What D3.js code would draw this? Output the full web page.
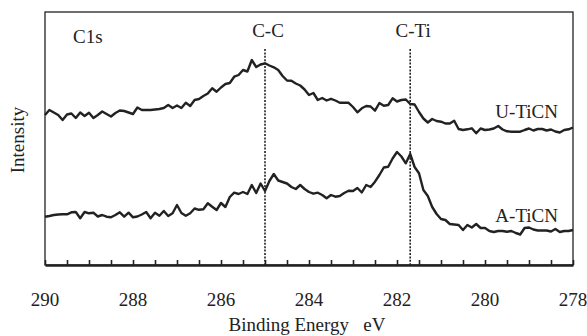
<!DOCTYPE html>
<html>
<head>
<meta charset="utf-8">
<script src="https://cdn.jsdelivr.net/npm/d3@7"></script>
<style>
  body { margin: 0; background: #fff; }
</style>
</head>
<body>
<div id="chart"></div>
<script>
// binding energy grid, 290 -> 278 eV in 0.1 eV steps
var energies = d3.range(121).map(function(i){ return +(290 - i * 0.1).toFixed(1); });

// U-TiCN (upper trace), arbitrary intensity
var uTiCN = [150,155,152.5,150,145,150.5,151.5,147,152.5,149,
  152.3,147,150,153.5,151,148.5,152,154.5,154,152.5,
  151,157.5,155,155,155,155.5,156,157,160,157,
  159.5,157,162.3,159,165,166,169,171.5,176.7,173.3,
  177.5,181,182,188.3,190,195,193.5,205,198,200.5,
  201.7,199.5,197.7,195,189,184.5,184.3,181.5,179.5,175.5,
  170,172,165,167,164.5,166.2,164.5,162.3,162.3,162.2,
  158,152.7,156.7,159,158.5,154.3,162,159.3,160,166.7,
  163.5,165,165.5,161,160.5,153,146.5,142.5,146,144,
  143.3,141.5,141.5,144.3,136,135,135.7,136.7,131.7,136.5,
  135,135.5,136.5,139,135.5,133.7,133.3,133.3,133.3,135,
  136.5,134.5,136,136,134.5,135.5,133.5,132.5,135,135.7,137.5];

// A-TiCN (lower trace)
var aTiCN = [48.3,49,50,50.5,50.7,50.7,52.7,53,46.7,53,
  51.7,52.3,48.5,50,48.3,47.7,50,52.7,48.3,52.3,
  47.7,48.5,50.5,53,46.7,52.3,49.3,54,49,51.7,
  60,52,49.3,51.7,56.5,55.2,55.7,61.7,58.3,55,
  62,58,68,72.3,71,73,71,80,72,81.5,
  74,84,91,84.5,83,81.5,78,76,80,76,
  73,71.3,72.3,70,66.7,70,68.3,69,72,74.3,
  74,77,72.5,80,78,83.3,90,97.5,98.3,106.5,
  113,108.5,101.7,111,98,91.7,75,69,58,51,
  46,45,41,40.5,40,35,40,37.5,41,37,
  37,34,33,34,34,33.3,34,32,30.5,37,
  37.5,35.5,34.5,34.5,34.5,33.5,36,33,34,34,35];

var xTicks = [290,288,286,284,282,280,278];
var refLines = [{name: 'C-C', e: 285.0}, {name: 'C-Ti', e: 281.7}];
var seriesNames = ['U-TiCN', 'A-TiCN'];

function XpsChart(){
    this.sizes = {width: 587, height: 336};
    this.m = {left: 45, right: 573, top: 12, bottom: 265};
}

XpsChart.prototype.make_svg = function(){
    this.svg = d3.select('#chart').append('svg')
        .attr('width', this.sizes.width)
        .attr('height', this.sizes.height)
        .attr('font-family', '"Liberation Serif", "Times New Roman", serif')
        .attr('fill', '#222');
    this.x = d3.scaleLinear().domain([290, 278]).range([this.m.left, this.m.right]);
    this.y = d3.scaleLinear().domain([0, 253]).range([this.m.bottom, this.m.top]);
};

XpsChart.prototype.draw_frame = function(){
    var m = this.m, svg = this.svg;
    // thin box
    svg.append('rect')
        .attr('x', m.left).attr('y', m.top)
        .attr('width', m.right - m.left).attr('height', m.bottom - m.top)
        .attr('fill', 'none').attr('stroke', '#222').attr('stroke-width', 1.3);

    // bottom axis, ticks inside
    var axis = d3.axisBottom(this.x)
        .tickValues(d3.range(290, 277.9, -0.5))
        .tickSizeInner(-5).tickSizeOuter(0)
        .tickFormat('');
    var g = svg.append('g')
        .attr('transform', 'translate(0,' + m.bottom + ')')
        .call(axis);
    g.attr('font-family', null);
    g.select('.domain').attr('stroke', '#222').attr('stroke-width', 2.4);
    g.selectAll('.tick line').attr('stroke', '#222').attr('stroke-width', 1.6);

    var self = this;
    svg.selectAll('.xlab').data(xTicks).enter().append('text')
        .attr('class', 'xlab')
        .attr('x', function(d){ return self.x(d); })
        .attr('y', 306)
        .attr('text-anchor', 'middle')
        .attr('font-size', 19)
        .text(function(d){ return d; });

    svg.append('text')
        .attr('x', 307).attr('y', 331)
        .attr('text-anchor', 'middle')
        .attr('font-size', 19)
        .style('white-space', 'pre')
        .text('Binding Energy   eV');

    svg.append('text')
        .attr('transform', 'translate(24,140) rotate(-90)')
        .attr('text-anchor', 'middle')
        .attr('font-size', 19)
        .text('Intensity');
};

XpsChart.prototype.draw_lines = function(){
    var self = this, svg = this.svg;

    svg.selectAll('.ref').data(refLines).enter().append('line')
        .attr('class', 'ref')
        .attr('x1', function(d){ return self.x(d.e); })
        .attr('x2', function(d){ return self.x(d.e); })
        .attr('y1', 49).attr('y2', this.m.bottom)
        .attr('stroke', '#222').attr('stroke-width', 1.6)
        .attr('stroke-dasharray', '2,1.4');

    svg.selectAll('.reflab').data(refLines).enter().append('text')
        .attr('class', 'reflab')
        .attr('x', function(d){ return self.x(d.e) + 3; })
        .attr('y', 37)
        .attr('text-anchor', 'middle')
        .attr('font-size', 19)
        .text(function(d){ return d.name; });

    var line = d3.line()
        .x(function(d){ return self.x(d[0]); })
        .y(function(d){ return self.y(d[1]); });

    [uTiCN, aTiCN].forEach(function(vals){
        svg.append('path')
            .datum(energies.map(function(e, i){ return [e, vals[i]]; }))
            .attr('d', line)
            .attr('fill', 'none')
            .attr('stroke', '#222')
            .attr('stroke-width', 2.4)
            .attr('stroke-linejoin', 'round');
    });

    svg.append('text').attr('x', 558).attr('y', 118)
        .attr('text-anchor', 'end').attr('font-size', 19).text(seriesNames[0]);
    svg.append('text').attr('x', 558).attr('y', 222)
        .attr('text-anchor', 'end').attr('font-size', 19).text(seriesNames[1]);

    svg.append('text').attr('x', 73).attr('y', 43)
        .attr('font-size', 19).text('C1s');
};

XpsChart.prototype.runit = function(){
    this.make_svg();
    this.draw_lines();
    this.draw_frame();
};

var chart = new XpsChart();
chart.runit();
</script>
</body>
</html>
